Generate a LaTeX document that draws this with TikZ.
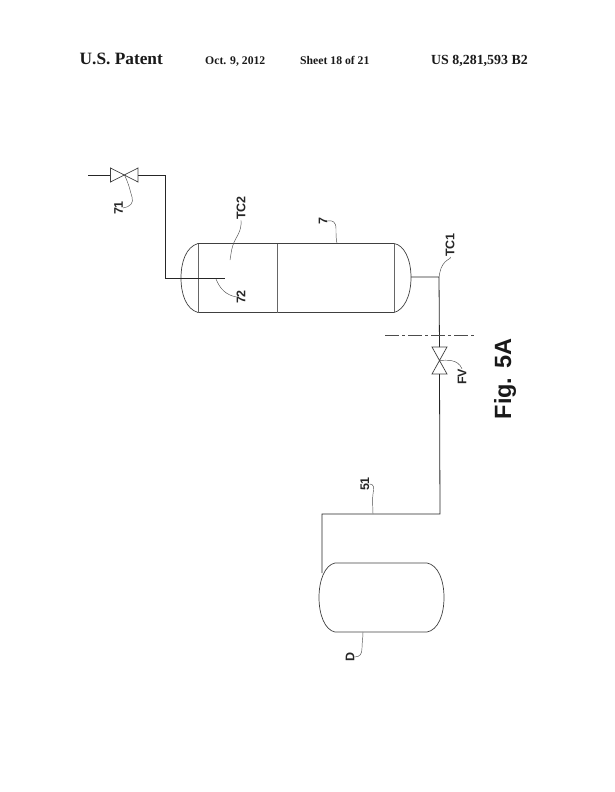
\documentclass[tikz,border=0pt]{standalone}
\usepackage{fontspec}
\setmainfont{Liberation Serif}
\setsansfont{Liberation Sans}
\begin{document}
\begin{tikzpicture}[x=1pt,y=-1pt,
  pipe/.style={line width=0.8pt,color=black!85},
  vessel/.style={line width=0.7pt,color=black!75},
  divider/.style={line width=0.5pt,color=black!60},
  leader/.style={line width=0.45pt,color=black!70},
  tag/.style={font=\sffamily\bfseries\fontsize{12.5}{14}\selectfont,rotate=90,inner sep=0pt,color=black!85},
  head/.style={font=\rmfamily\bfseries,anchor=base west,inner sep=0pt,color=black!90}]
\useasboundingbox (0,0) rectangle (614,792);
% header
\node[head,font=\rmfamily\bfseries\fontsize{17.3}{20}\selectfont] (h1) at (79.5,65) {U.S. Patent};
\node[head,font=\rmfamily\bfseries\fontsize{11.7}{13}\selectfont] (h2) at (205,65) {Oct. 9, 2012};
\node[head,font=\rmfamily\bfseries\fontsize{11.7}{13}\selectfont] (h3) at (300,65) {Sheet 18 of 21};
\node[head,font=\rmfamily\bfseries\fontsize{13.9}{16}\selectfont] (h4) at (431,65) {US 8,281,593 B2};
% points
\coordinate (inlet) at (88,175);
\coordinate (v71l) at (110.5,175);
\coordinate (v71c) at (124.5,175);
\coordinate (v71r) at (138,175);
\coordinate (bend1) at (165,175);
\coordinate (bend2) at (165,278);
\coordinate (dip) at (225,278);
\coordinate (nozzle) at (411,277);
\coordinate (tee) at (439,277);
\coordinate (fvt) at (439.5,347);
\coordinate (fvc) at (439.5,360.5);
\coordinate (fvb) at (439.5,374);
\coordinate (bend3) at (440,514);
\coordinate (bend4) at (322,514);
\coordinate (drumin) at (322,573);
% vessel 7
\draw[vessel] (198,243.5) -- (394,243.5) .. controls (404,245) and (411,259) .. (411,277.5) .. controls (411,296) and (404,310) .. (394,312.5)
  -- (198,312.5) .. controls (186,309) and (181,294) .. (181,278) .. controls (181,262) and (186,247) .. (198,243.5) -- cycle;
\draw[divider] (198,243.5) -- (198,312.5);
\draw[divider] (277,243.5) -- (277,312.5);
\draw[divider] (394,243.5) -- (394,312.5);
% drum D
\draw[vessel] (335,563) -- (427,563) .. controls (438,565) and (444,580) .. (444,597.5) .. controls (444,615) and (438,630) .. (427,632)
  -- (335,632) .. controls (325,630) and (319,615) .. (319,597.5) .. controls (319,580) and (325,565) .. (335,563) -- cycle;
% piping
\draw[pipe] (inlet) -- (v71l);
\draw[pipe] (v71r) -- (bend1) -- (bend2) -- (dip);
\draw[pipe] (nozzle) -- (tee) -- (fvt);
\draw[pipe] (fvb) -- (bend3) -- (bend4) -- (drumin);
% valves
\draw[vessel] (110.5,168) -- (138,182) -- (138,168) -- (110.5,182) -- cycle;
\draw[vessel] (432,347) -- (447,347) -- (432,374) -- (447,374) -- cycle;
% battery limit
\coordinate (bl1) at (385,335);
\coordinate (bl2) at (475,335);
\draw[line width=0.6pt,color=black!70,dash pattern=on 14pt off 3pt on 3pt off 3pt] (bl1) -- (bl2);
% labels
\node[tag] (l71) at (118.5,208) {71};
\node[tag] (lTC2) at (241,208) {TC2};
\node[tag] (l72) at (241,297) {72};
\node[tag] (l7) at (323,221) {7};
\node[tag] (lTC1) at (450,245) {TC1};
\node[tag] (lFV) at (462,377) {FV};
\node[tag] (l51) at (365,484) {51};
\node[tag] (lD) at (350,657) {D};
\node[font=\sffamily\bfseries\fontsize{23.5}{26}\selectfont,rotate=90,inner sep=0pt,color=black!90] (fig) at (505,379) {Fig. 5A};
% leaders
\draw[leader] (l71.south) .. controls (130,207) and (134,203) .. (132,197) .. controls (130,191) and (130,187) .. (v71c);
\draw[leader] (lTC2.west) .. controls (242,232) and (236,236) .. (233,245) .. controls (231,251) and (231,255) .. (230,260);
\draw[leader] (l72.north) .. controls (226,295) and (220,289) .. (216,279);
\draw[leader] (l7.south) .. controls (333,220) and (336,222) .. (336,229) .. controls (336,235) and (336,239) .. (337,243.5);
\draw[leader] (lTC1.west) .. controls (452,258) and (448,259) .. (445,262) .. controls (441,266) and (440,271) .. (tee);
\draw[leader] (fvc) .. controls (447,360) and (458,359) .. (lFV.east);
\draw[leader] (l51.south) .. controls (374,484) and (374,487) .. (373,494) .. controls (372,500) and (373,507) .. (373,514);
\draw[leader] (lD.south) .. controls (360,657) and (362,654) .. (362,648) .. controls (362,642) and (363,638) .. (363,632);
\end{tikzpicture}
\end{document}
